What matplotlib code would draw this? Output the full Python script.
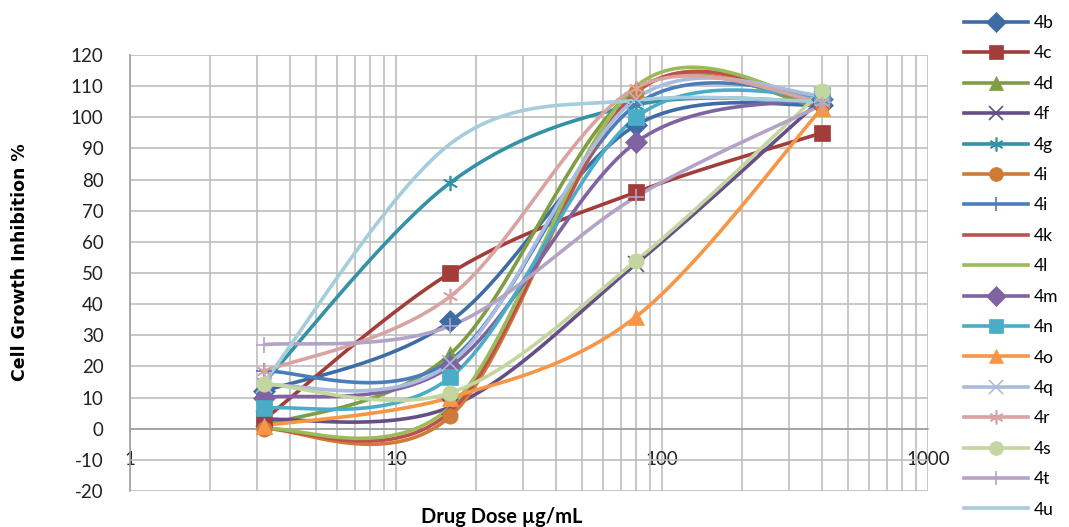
import numpy as np
import matplotlib
matplotlib.use("Agg")
import matplotlib.pyplot as plt
from matplotlib.ticker import FixedLocator, LogLocator, NullFormatter, FixedFormatter

# ---- data ----
doses = [3.2, 16, 80, 400]
series_names = ["4b", "4c", "4d", "4f", "4g", "4i", "4i", "4k", "4l",
                "4m", "4n", "4o", "4q", "4r", "4s", "4t", "4u"]
v_4b = [12, 34.5, 97.5, 104]
v_4c = [3, 50, 76, 95]
v_4d = [1, 24, 109, 103]
v_4f = [3, 7, 53, 106]
v_4g = [15, 79, 104, 105]
v_4i = [0, 4, 108, 104]
v_4j = [18.5, 22, 104, 107]
v_4k = [0, 5.5, 108, 105]
v_4l = [0, 7, 110, 104]
v_4m = [10, 20, 92, 106]
v_4n = [6.5, 16.5, 100, 107]
v_4o = [1, 10, 36, 103]
v_4q = [14, 21, 106, 107]
v_4r = [18.5, 42.5, 109.5, 105]
v_4s = [14.5, 11.5, 54, 108.5]
v_4t = [27, 33, 74.5, 104]
v_4u = [15, 91.5, 105.5, 105]
values = [v_4b, v_4c, v_4d, v_4f, v_4g, v_4i, v_4j, v_4k, v_4l,
          v_4m, v_4n, v_4o, v_4q, v_4r, v_4s, v_4t, v_4u]

colors = ["#3E6DA6", "#A33D3A", "#7F9D43", "#654F86", "#3591A5", "#CF7A36",
          "#4A7EBB", "#C0504D", "#9BBB59", "#8064A2", "#4BACC6", "#F79646",
          "#A9BCDD", "#D9A3A2", "#C4D69F", "#B3A3C7", "#A5CDDB"]
markers = ["D", "s", "^", "x", (6, 2, 0), "o", "+", "None", "None",
           "D", "s", "^", "x", (6, 2, 0), "o", "+", "None"]

y_ticks = list(range(-20, 121, 10))
x_ticks = [1, 10, 100, 1000]
x_labels = ["1", "10", "100", "1000"]


def catmull_rom(xs, ys, n=60):
    p = np.column_stack([xs, ys]).astype(float)
    p = np.vstack([p[0], p, p[-1]])
    out = []
    for i in range(1, len(p) - 2):
        p0, p1, p2, p3 = p[i - 1], p[i], p[i + 1], p[i + 2]
        c1 = p1 + (p2 - p0) / 6.0
        c2 = p2 - (p3 - p1) / 6.0
        t = np.linspace(0, 1, n)[:, None]
        b = ((1 - t) ** 3) * p1 + 3 * ((1 - t) ** 2) * t * c1 + 3 * (1 - t) * t ** 2 * c2 + t ** 3 * p2
        out.append(b if i == 1 else b[1:])
    return np.vstack(out)


plt.rcParams['font.family'] = ['Lato', 'DejaVu Sans']
plt.rcParams['axes.unicode_minus'] = False
fig = plt.figure(figsize=(10.69, 5.27), dpi=100)
ax = fig.add_axes([130 / 1069, 1 - 491 / 527, (928 - 130) / 1069, (491 - 55) / 527])

ax.set_xscale('log')
ax.set_xlim(1, 1000)
ax.set_ylim(-20, 120)

lx = np.log10(doses)
handles = []
for name, vals, c, m in zip(series_names, values, colors, markers):
    curve = catmull_rom(lx, vals)
    mew = 1.2 if m in ("x", "+", (6, 2, 0)) else 0.5
    ax.plot(10 ** curve[:, 0], curve[:, 1], color=c, lw=2.6, zorder=3, solid_capstyle='round')
    ax.plot(doses, vals, linestyle='None', marker=m, color=c, markersize=11,
            markeredgewidth=mew, zorder=4)
    h, = ax.plot([], [], color=c, lw=2.6, marker=m, markersize=10,
                 markeredgewidth=mew, label=name)
    handles.append(h)

# grid
ax.xaxis.set_major_locator(FixedLocator(x_ticks))
ax.xaxis.set_major_formatter(FixedFormatter(x_labels))
ax.xaxis.set_minor_locator(LogLocator(base=10, subs=np.arange(2, 10)))
ax.xaxis.set_minor_formatter(NullFormatter())
ax.yaxis.set_major_locator(FixedLocator(y_ticks))
ax.grid(True, which='major', color='#BDBDBD', lw=1.2, zorder=0)
ax.grid(True, which='minor', axis='x', color='#BDBDBD', lw=1.2, zorder=0)
ax.set_axisbelow(True)

for s in ['top', 'right']:
    ax.spines[s].set_visible(False)
ax.spines['bottom'].set_position(('data', 0))
ax.spines['bottom'].set_color('#A0A0A0')
ax.spines['bottom'].set_linewidth(1.2)
ax.spines['left'].set_color('#A0A0A0')
ax.spines['left'].set_linewidth(1.2)
ax.tick_params(axis='both', which='both', length=0, labelsize=13.5, colors='#222222')
ax.tick_params(axis='x', pad=16)
ax.tick_params(axis='y', pad=19)

fig.text(20 / 1069, 1 - 262 / 527, "Cell Growth Inhibition %", rotation=90, ha='center', va='center',
         fontsize=12.5, fontweight='bold', family=['Liberation Sans Narrow', 'DejaVu Sans'])
fig.text(502 / 1069, 1 - 517 / 527, "Drug Dose µg/mL", ha='center', va='center',
         fontsize=14.5, fontweight='bold')

leg = fig.legend(handles=handles, loc='upper left', bbox_to_anchor=(964 / 1069, 1 - 15 / 527),
                 frameon=False, fontsize=12.5, labelspacing=0.83, handlelength=3.7,
                 handletextpad=0.3, borderaxespad=0, borderpad=0)

fig.savefig("out.png", dpi=100)
